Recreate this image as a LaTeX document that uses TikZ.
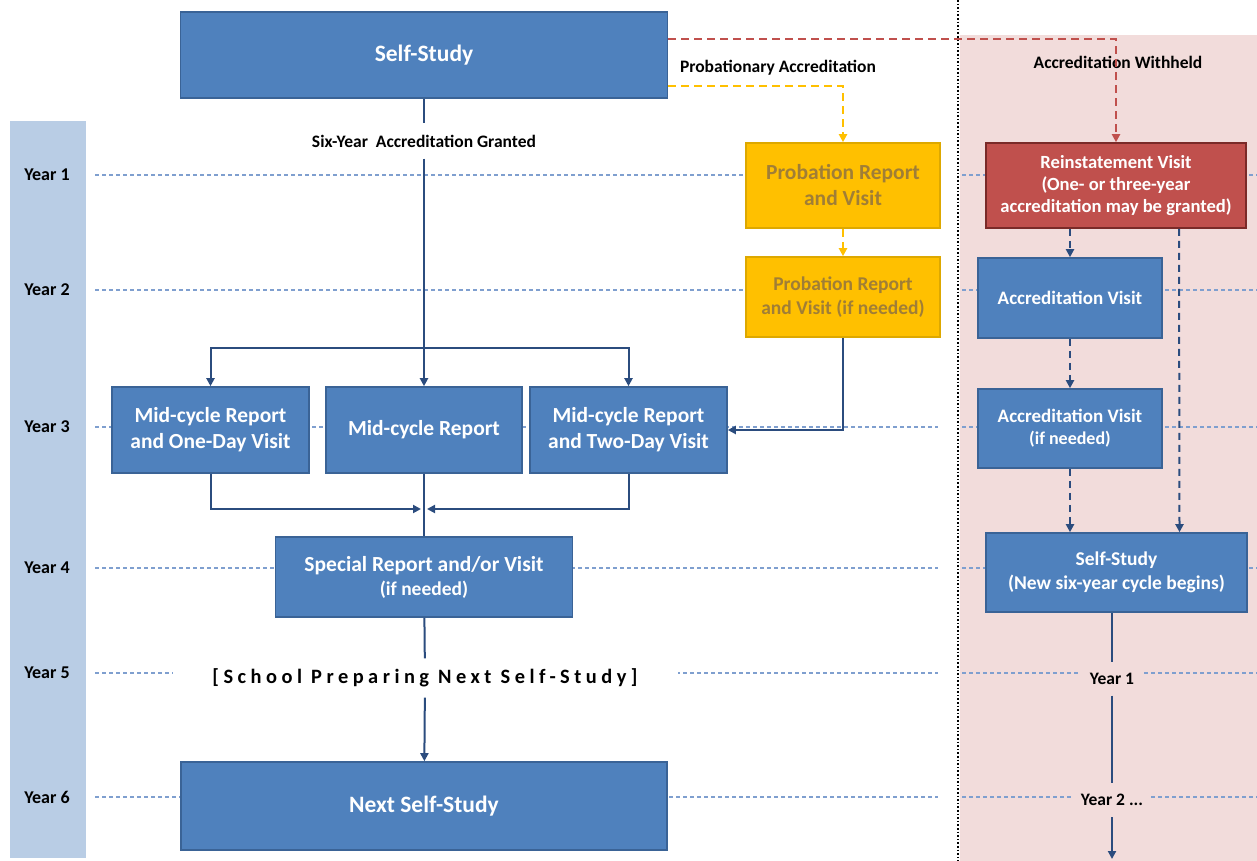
\documentclass[tikz,border=0pt]{standalone}
\usepackage{fontspec}
\setmainfont{Carlito}
\usetikzlibrary{arrows.meta}

\definecolor{boxblue}{HTML}{4F81BD}
\definecolor{boxedge}{HTML}{3A6396}
\definecolor{linkblue}{HTML}{2B4C7E}
\definecolor{yearline}{HTML}{7F9FCF}
\definecolor{bandblue}{HTML}{B9CDE5}
\definecolor{pinkbg}{HTML}{F2DCDB}
\definecolor{probfill}{HTML}{FFC000}
\definecolor{probedge}{HTML}{DDA800}
\definecolor{probtext}{HTML}{A07E36}
\definecolor{reinfill}{HTML}{C0504D}
\definecolor{reinedge}{HTML}{7A2A28}

\tikzset{
  >={Triangle[length=8pt,width=8pt]},
  box/.style={draw=boxedge, fill=boxblue, line width=1.6pt, text=white, align=center,
    inner sep=0pt, font=\bfseries\fontsize{21.5}{26}\selectfont},
  probbox/.style={box, draw=probedge, fill=probfill, text=probtext},
  reinbox/.style={box, draw=reinedge, fill=reinfill},
  yearlbl/.style={font=\bfseries\fontsize{18}{20}\selectfont},
  note/.style={font=\bfseries\fontsize{17.5}{20}\selectfont, inner sep=0pt},
  link/.style={draw=linkblue, line width=2pt},
  linkdash/.style={link, dash pattern=on 7pt off 5pt},
  probdash/.style={draw=probfill, line width=2pt, dash pattern=on 8pt off 5pt},
  reindash/.style={draw=reinfill, line width=2pt, dash pattern=on 8pt off 5pt},
  yrline/.style={draw=yearline, line width=1.3pt, dash pattern=on 4pt off 3pt},
}

\begin{document}
\begin{tikzpicture}[x=1pt,y=-1pt]
\useasboundingbox (0,0) rectangle (1257,861);

% backgrounds
\fill[pinkbg] (960,35) rectangle (1257,861);
\fill[bandblue] (10,121) rectangle (86,858);

% year rows
\foreach \n/\y in {1/175,2/290,3/427,4/568,5/673,6/797} {
  \node[yearlbl] (yr\n) at (47,\y) {Year \n};
  \draw[yrline] (95,\y) -- (938,\y);
  \draw[yrline] (962,\y) -- (1257,\y);
}
\draw[black, line width=1.6pt, dotted] (958,0) -- (958,861);

% main cycle
\node[box, font=\bfseries\fontsize{23.5}{26}\selectfont, minimum width=487pt, minimum height=86pt] (self) at (424,55) {Self-Study};
\node[note, fill=white, minimum height=35pt, minimum width=250pt] (gran) at (424,141) {Six-Year\ \ Accreditation Granted};
\node[box, minimum width=197pt, minimum height=86pt] (midl) at (210.5,430) {Mid-cycle Report\\and One-Day Visit};
\node[box, minimum width=196pt, minimum height=86pt] (midc) at (424,430) {Mid-cycle Report};
\node[box, font=\bfseries\fontsize{21.5}{24}\selectfont, minimum width=297pt, minimum height=80pt] (spec) at (424,577) {Special Report and/or Visit\\{\fontsize{19.5}{24}\selectfont(if needed)}};
\node[box, minimum width=197pt, minimum height=86pt] (midr) at (628.5,430) {Mid-cycle Report\\and Two-Day Visit};
\node[fill=white, inner sep=0pt, minimum width=505pt, minimum height=39pt,
  font=\bfseries\fontsize{20.4}{22}\selectfont\addfontfeature{LetterSpace=22}] (school) at (425,678) {[School Preparing Next Self-Study]};
\node[box, font=\bfseries\fontsize{23.5}{26}\selectfont, minimum width=486pt, minimum height=88pt] (next) at (424,806) {Next Self-Study};

% probation
\node[probbox, font=\bfseries\fontsize{21.5}{26}\selectfont, minimum width=194pt, minimum height=85pt] (prob1) at (843,185.5) {Probation Report\\and Visit};
\node[probbox, font=\bfseries\fontsize{19.5}{24}\selectfont, minimum width=194pt, minimum height=80pt] (prob2) at (843,297) {Probation Report\\and Visit (if needed)};
\node[note] (plbl) at (778,68) {Probationary Accreditation};

% withheld
\node[note] (wlbl) at (1118,62) {Accreditation Withheld};
\node[reinbox, minimum width=260pt, minimum height=85pt, font=\bfseries\fontsize{18.6}{22}\selectfont] (rein) at (1116,185.5)
  {Reinstatement Visit\\(One- or three-year\\accreditation may be granted)};
\node[box, font=\bfseries\fontsize{19}{22}\selectfont, minimum width=184pt, minimum height=80pt] (acc1) at (1070,298) {Accreditation Visit};
\node[box, font=\bfseries\fontsize{19}{22}\selectfont, minimum width=184pt, minimum height=79pt] (acc2) at (1070,428.5) {Accreditation Visit\\{\fontsize{18}{22}\selectfont(if needed)}};
\node[box, font=\bfseries\fontsize{19.5}{24}\selectfont, minimum width=261pt, minimum height=79pt] (news) at (1116.5,572.5) {Self-Study\\(New six-year cycle begins)};
\node[note, fill=pinkbg, minimum width=64pt, minimum height=33pt] (ny1) at (1112,679) {Year 1};
\node[note, fill=pinkbg, minimum width=78pt, minimum height=34pt] (ny2) at (1112,800) {Year 2 ...};
\coordinate (nend) at (1112,859);

% connectors
\coordinate (split) at (424,348);
\coordinate (merge) at (424,509);
\draw[link] (self) -- (gran);
\draw[link,->] (gran) -- (midc);
\draw[link,->] (split) -| (midl.north);
\draw[link,->] (split) -| (midr.north);
\draw[link,->,shorten >=3pt] (midl.south) |- (merge);
\draw[link,->,shorten >=3pt] (midr.south) |- (merge);
\draw[link] (midc) -- (spec);
\draw[link] (spec) -- (school);
\draw[link,->] (school) -- (next);
\draw[link,->] (prob2.south) |- (midr.east);

\draw[probdash,->] ([yshift=13pt]self.south east) -| (prob1.north);
\draw[probdash,->] (prob1) -- (prob2);
\draw[reindash,->] ([yshift=-28pt]self.north east) -| (rein.north);

\draw[linkdash,->] (acc1.north |- rein.south) -- (acc1.north);
\draw[linkdash,->] ([xshift=63pt]rein.south) -- ([xshift=63pt]news.north);
\draw[linkdash,->] (acc1) -- (acc2);
\draw[linkdash,->] (acc2.south) -- (acc2.south |- news.north);
\draw[link] (news.south -| ny1) -- (ny1);
\draw[link] (ny1) -- (ny2);
\draw[link,->] (ny2) -- (nend);
\end{tikzpicture}
\end{document}
